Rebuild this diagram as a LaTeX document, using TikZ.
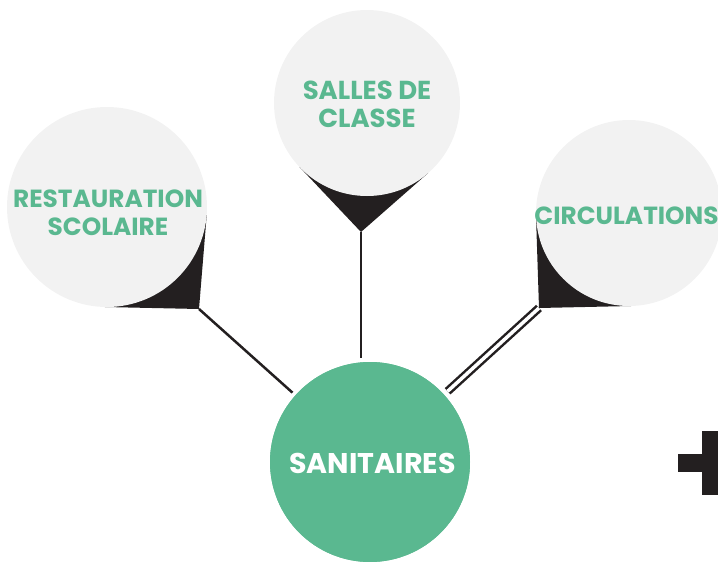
\documentclass[tikz,border=0pt]{standalone}
\usepackage{fontspec}
\newfontfamily\pop{Poppins}
\definecolor{pale}{HTML}{F2F2F2}
\definecolor{mygreen}{HTML}{5AB890}
\definecolor{ink}{HTML}{231F20}
\tikzset{
  bubble/.style={circle, fill=pale, inner sep=0pt, outer sep=0pt},
  lbl/.style={font=\pop\bfseries\fontsize{24.8}{28}\selectfont, text=mygreen, align=center, inner sep=0pt},
  conn/.style={draw=ink, line width=2.5pt, shorten >=4pt},
  pin/.style={fill=ink}
}
\begin{document}
\begin{tikzpicture}[x=1pt,y=-1pt]
\useasboundingbox (0,0) rectangle (718,562);
\clip (0,0) rectangle (718,562);
% tips
\coordinate (t1) at (199,309);
\coordinate (t2) at (361,232);
\coordinate (t3) at (539,308);
% central node
\node[circle, fill=mygreen, inner sep=0pt, outer sep=0pt, minimum size=200pt] (san) at (370,462) {};
% connectors
\draw[conn] (t1) -- (san);
\draw[conn] (t2) -- (t2 |- san.north);
\draw[conn, double=white, double distance=3.5pt, shorten >=5pt] (t3) -- (san);
% pins
\fill[pin] (t1) -- (206.7,215.1) -- (107,207) -- (104.8,307) -- cycle;
\fill[pin] (t2) -- (428.3,172.9) -- (367,103) -- (299.5,167.0) -- cycle;
\fill[pin] (t3) -- (631.0,306.0) -- (629,213) -- (536.0,216.0) -- cycle;
% bubbles
\node[bubble, minimum size=200pt] (rest) at (107,207) {};
\node[bubble, minimum size=186pt] (salles) at (367,103) {};
\node[bubble, minimum size=186pt] (circ) at (629,213) {};
% redraw central on top
\node[circle, fill=mygreen, inner sep=0pt, outer sep=0pt, minimum size=200pt] at (san) {};
% labels
\node[lbl] (restlbl) at (108,213) {RESTAURATION\\SCOLAIRE};
\node[lbl, font=\pop\bfseries\fontsize{26}{28}\selectfont] (salleslbl) at (367,104.5) {SALLES DE\\CLASSE};
\node[lbl] (circlbl) at (626.5,215.5) {CIRCULATIONS};
\node[lbl, text=white, font=\pop\bfseries\fontsize{28.5}{30}\selectfont] (sanlbl) at (372.5,463.5) {SANITAIRES};
% plus sign
\fill[ink] (702,431) rectangle (720,495);
\fill[ink] (678,454) rectangle (744,472);
\end{tikzpicture}
\end{document}
